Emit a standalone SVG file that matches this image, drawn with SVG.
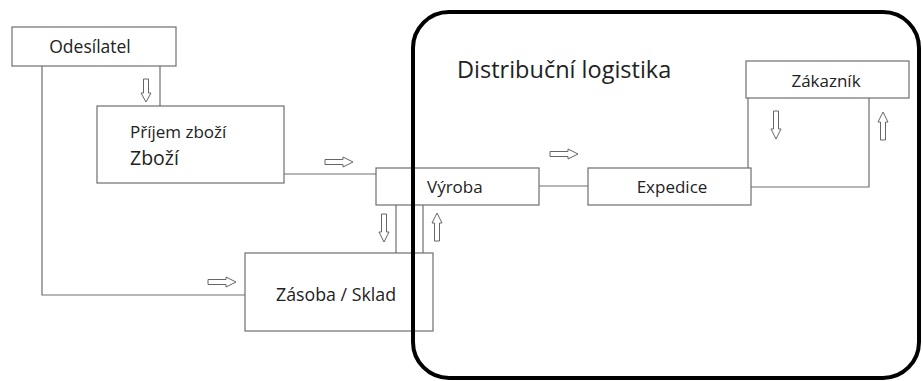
<svg xmlns="http://www.w3.org/2000/svg" width="923" height="381" viewBox="0 0 923 381">
<style>
.box{fill:#fff;stroke:#6e6e6e;stroke-width:1.2}
.ln{fill:none;stroke:#6e6e6e;stroke-width:1.2}
.arr{fill:#fff;stroke:#666;stroke-width:1}
.t{font-family:"Open Sans","Noto Sans",sans-serif;fill:#222}
</style>
<defs>
<path id="ar" d="M0,-2.5 H18 V-5 L28,0 L18,5 V2.5 H0 Z"/>
<path id="ars" d="M0,-2.5 H14 V-5 L23,0 L14,5 V2.5 H0 Z"/>
</defs>
<rect width="923" height="381" fill="#fff"/>
<g id="connectors">
<polyline class="ln" points="42,66 42,295 246,295"/>
<line class="ln" x1="160" y1="66" x2="160" y2="106"/>
<line class="ln" x1="284" y1="174" x2="376" y2="174"/>
<line class="ln" x1="396" y1="205" x2="396" y2="253"/>
<line class="ln" x1="423" y1="205" x2="423" y2="253"/>
<line class="ln" x1="539" y1="186" x2="588" y2="186"/>
<line class="ln" x1="748" y1="98" x2="748" y2="168"/>
<polyline class="ln" points="751,187 869,187 869,98"/>
<g class="arr">
<use href="#ars" transform="translate(146,79) rotate(90)"/>
<use href="#ar" transform="translate(325,162)"/>
<use href="#ar" transform="translate(208,282)"/>
<use href="#ar" transform="translate(384,214) rotate(90)"/>
<use href="#ar" transform="translate(437,241) rotate(-90)"/>
<use href="#ar" transform="translate(550,154)"/>
<use href="#ar" transform="translate(776,111) rotate(90)"/>
<use href="#ar" transform="translate(883,140) rotate(-90)"/>
</g>
</g>
<g id="odesilatel">
<rect class="box" x="12" y="27" width="164" height="39"/>
<text class="t" x="90" y="53" font-size="17.5" text-anchor="middle">Odesílatel</text>
</g>
<g id="prijem">
<rect class="box" x="97" y="106" width="187" height="77"/>
<text class="t" x="130" y="138" font-size="17">Příjem zboží</text>
<text class="t" x="130" y="165" font-size="19.5">Zboží</text>
</g>
<g id="vyroba">
<rect class="box" x="376" y="168" width="163" height="37"/>
<text class="t" x="427" y="193" font-size="17">Výroba</text>
</g>
<g id="zasoba">
<rect class="box" x="245" y="253" width="188" height="78"/>
<text class="t" x="276" y="301" font-size="17.8">Zásoba / Sklad</text>
</g>
<g id="expedice">
<rect class="box" x="588" y="168" width="163" height="37"/>
<text class="t" x="672" y="193" font-size="17" text-anchor="middle">Expedice</text>
</g>
<g id="zakaznik">
<rect class="box" x="746" y="61" width="163" height="37"/>
<text class="t" x="826" y="87" font-size="17" text-anchor="middle">Zákazník</text>
</g>
<g id="distribucni">
<rect x="413" y="12" width="506" height="366" rx="36" ry="36" fill="none" stroke="#000" stroke-width="4"/>
<text class="t" x="457" y="78" font-size="23.5">Distribuční logistika</text>
</g>
</svg>
